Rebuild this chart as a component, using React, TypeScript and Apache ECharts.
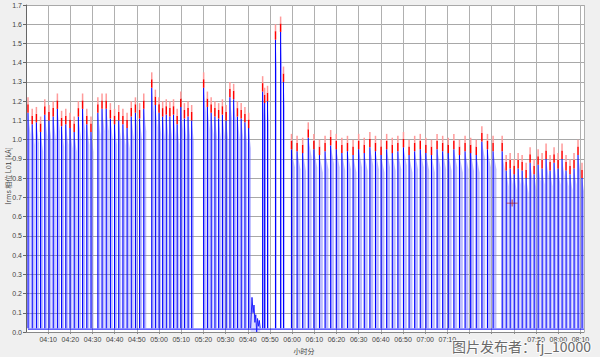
import React, { useEffect, useRef } from "react";
import * as echarts from "echarts";

// ---- data (minutes after 04:00, current in kA) ----
const groupStart = [0.9, 32.4, 56.7, 80.1, 119.7, 214.7];
const groupEnd = [29.3, 53.1, 74.7, 100.4, 210.6, 250.7];
const g1Peaks = [1.22, 1.16, 1.17, 1.12, 1.21, 1.18, 1.2, 1.24, 1.15, 1.16, 1.14, 1.12, 1.2, 1.24, 1.16, 1.12];
const g2Peaks = [1.22, 1.24, 1.24, 1.19, 1.16, 1.18, 1.16, 1.14, 1.2, 1.22, 1.19, 1.24];
const g3Peaks = [1.35, 1.26, 1.22, 1.2, 1.21, 1.2, 1.21, 1.16, 1.25, 1.19, 1.2, 1.18];
const g4Peaks = [1.35, 1.25, 1.22, 1.2, 1.19, 1.21, 1.18, 1.3, 1.29, 1.2, 1.19, 1.17, 1.14];
const g6Peaks = [1.03, 1.02, 1.01, 1.09, 1.03, 1.0, 1.02, 1.05, 1.03, 1.01, 1.02, 1.0, 1.03, 1.01, 1.04, 1.02, 1.0, 1.03, 1.01, 1.02, 1.04, 1.0, 1.02, 1.03, 1.01, 1.0, 1.03, 1.02, 1.01, 1.03, 1.0, 1.02, 1.01, 1.0, 1.07, 1.03, 1.02];
const g7Peaks = [1.02, 0.92, 0.93, 0.9, 0.93, 0.92, 0.88, 0.96, 0.9, 0.95, 0.93, 0.98, 0.92, 0.96, 0.93, 0.98, 0.92, 0.9, 0.93, 1.0, 0.88];
const bigSpikeTimes = [106.7, 107.6, 108.9, 112.5, 114.8, 116.1];
const bigSpikePeaks = [1.33, 1.27, 1.28, 1.6, 1.64, 1.38];
const noiseTimes = [101.3, 101.9, 102.4, 102.8, 103.2, 103.6, 104.0, 104.4, 104.8, 105.2, 105.6];
const noiseValues = [0.02, 0.18, 0.1, 0.14, 0.05, 0.09, 0.0, 0.07, 0.03, 0.06, 0.02];
const baselineTimes = [0.9, 251.6];
const baselineValues = [0.015, 0.015];
const cursorPoint = [219.2, 0.67];
// x labels hidden behind the watermark in the reference
const hiddenTickMinutes = [200, 210, 220];
const yAxisTitle = "Irms 相位 L01 [kA]";
const xAxisTitle = "小时分";
const watermark = "图片发布者：fj_10000";

const groupPeaks = [g1Peaks, g2Peaks, g3Peaks, g4Peaks, g6Peaks, g7Peaks];

const BASE = 0.02;
const TIP = 0.08;

function fmtTime(v: number) {
  const h = 4 + Math.floor(v / 60);
  const m = Math.round(v % 60);
  return (h < 10 ? "0" : "") + h + ":" + (m < 10 ? "0" : "") + m;
}

export default function App() {
  const ref = useRef<HTMLDivElement>(null);
  useEffect(() => {
    if (!ref.current) return;
    const chart = echarts.init(ref.current, undefined, { renderer: "svg" });

    const spikes: number[][] = [];
    groupPeaks.forEach((peaks, gi) => {
      const n = peaks.length;
      const step = (groupEnd[gi] - groupStart[gi]) / (n - 1);
      peaks.forEach((p, i) => spikes.push([groupStart[gi] + i * step, p, step]));
    });
    bigSpikeTimes.forEach((t, i) => spikes.push([t, bigSpikePeaks[i], 1.0]));

    const renderItem = (params: any, api: any) => {
      const t = api.value(0);
      const top = api.value(1);
      const w = api.value(2);
      const blueTop = top - TIP;
      const p0 = api.coord([t, BASE]);
      const pTop = api.coord([t, blueTop]);
      const pMid = api.coord([t, top - TIP * 0.45]);
      const pRed = api.coord([t, top]);
      const pSh = api.coord([t + w * 0.6, blueTop * 0.9]);
      const pEnd = api.coord([t + w * 0.6, BASE]);
      return {
        type: "group",
        children: [
          {
            type: "polygon",
            shape: { points: [p0, pTop, pSh, pEnd] },
            style: { fill: "rgba(95,95,255,0.42)" },
          },
          {
            type: "line",
            shape: { x1: p0[0], y1: p0[1], x2: pTop[0], y2: pTop[1] },
            style: { stroke: "#0000ff", lineWidth: 1.1 },
          },
          {
            type: "line",
            shape: { x1: pTop[0], y1: pTop[1], x2: pMid[0], y2: pMid[1] },
            style: { stroke: "#ff0000", lineWidth: 1.5 },
          },
          {
            type: "line",
            shape: { x1: pMid[0], y1: pMid[1], x2: pRed[0], y2: pRed[1] },
            style: { stroke: "#ff9a9a", lineWidth: 1.5 },
          },
        ],
      };
    };

    const labelFont = { fontFamily: "Liberation Sans, Arial, sans-serif", fontSize: 7, color: "#444" };

    chart.setOption({
      animation: false,
      backgroundColor: "#f0f0f0",
      textStyle: { fontFamily: "Liberation Sans, Arial, sans-serif" },
      grid: {
        left: 26,
        right: 16,
        top: 5,
        bottom: 25,
        containLabel: false,
        outerBoundsMode: "none",
        show: true,
        backgroundColor: "#ffffff",
        borderWidth: 0,
      },
      xAxis: {
        type: "value",
        min: 0,
        max: 251.6,
        interval: 10,
        axisLine: { show: true, lineStyle: { color: "#888" } },
        axisTick: { show: true, length: 2, lineStyle: { color: "#888" } },
        axisLabel: {
          ...labelFont,
          margin: 4,
          showMinLabel: false,
          showMaxLabel: false,
          formatter: (v: number) =>
            Math.abs(v % 10) < 1e-6 && v > 0 && hiddenTickMinutes.indexOf(v) < 0 ? fmtTime(v) : "",
        },
        splitLine: { show: true, lineStyle: { color: "#b0b0b0", width: 1 } },
      },
      yAxis: {
        type: "value",
        min: 0,
        max: 1.7,
        interval: 0.1,
        axisLine: { show: true, lineStyle: { color: "#666" } },
        axisTick: { show: true, length: 3, lineStyle: { color: "#666" } },
        axisLabel: { ...labelFont, margin: 4, formatter: (v: number) => v.toFixed(1) },
        splitLine: { show: true, lineStyle: { color: "#a8a8a8", width: 1 } },
      },
      graphic: [
        {
          type: "text",
          x: 8,
          y: 176,
          rotation: Math.PI / 2,
          style: {
            text: yAxisTitle,
            fontFamily: "Noto Sans CJK SC",
            fontSize: 7,
            fill: "#444",
            align: "center",
            verticalAlign: "middle",
          },
        },
        {
          type: "text",
          x: 304,
          y: 351,
          style: {
            text: xAxisTitle,
            fontFamily: "Noto Sans CJK SC",
            fontSize: 7,
            fill: "#444",
            align: "center",
            verticalAlign: "middle",
          },
        },
        {
          type: "text",
          left: 451,
          top: 338,
          style: {
            text: watermark,
            fontFamily: "Noto Sans CJK SC",
            fontSize: 14,
            fill: "#6a6a6a",
            stroke: "rgba(255,255,255,0.8)",
            lineWidth: 2,
          },
          z: 100,
        },
      ],
      series: [
        {
          type: "line",
          data: baselineTimes.map((t, i) => [t, baselineValues[i]]),
          showSymbol: false,
          lineStyle: { color: "#0000ff", width: 1 },
          z: 1,
        },
        {
          type: "custom",
          renderItem,
          data: spikes,
          encode: { x: 0, y: 1 },
          clip: true,
          z: 2,
        },
        {
          type: "line",
          data: noiseTimes.map((t, i) => [t, noiseValues[i]]),
          showSymbol: false,
          lineStyle: { color: "#2020ff", width: 1 },
          areaStyle: { color: "rgba(90,90,255,0.3)" },
          z: 3,
        },
        {
          type: "scatter",
          data: [cursorPoint],
          symbol: "path://M0,4h12v1h-12z M5.5,0h1v9h-1z",
          symbolSize: [11, 7],
          itemStyle: { color: "#a00000" },
          z: 5,
        },
      ],
    });
    return () => chart.dispose();
  }, []);
  return (
    <div
      ref={ref}
      style={{ position: "absolute", left: 0, top: 0, width: 600, height: 357, background: "#f0f0f0" }}
    />
  );
}
